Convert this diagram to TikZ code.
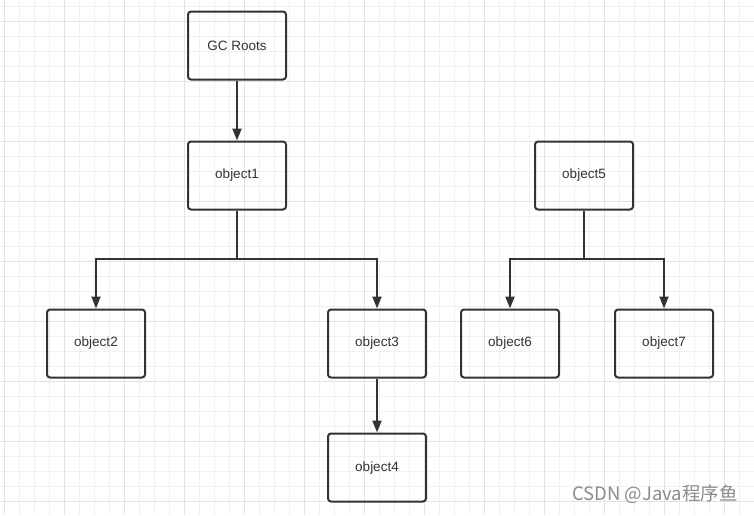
\documentclass[tikz,border=0pt]{standalone}
\usepackage{fontspec}
\setmainfont{Liberation Sans}
\newfontfamily\cjkfont{Noto Sans CJK SC}
\usepackage{tikz}
\usetikzlibrary{positioning, arrows.meta}

\begin{document}
\begin{tikzpicture}[
    x=1pt, y=1pt,
    box/.style={draw=black!80, line width=2pt, rounded corners=3pt, minimum width=98pt, minimum height=68pt, align=center, font=\fontsize{13.5}{16}\selectfont, text=black!80},
    arrow/.style={-{Triangle[length=12pt,width=9pt]}, line width=2pt, draw=black!80},
    minor_grid/.style={draw=black!6, line width=0.8pt},
    major_grid/.style={draw=black!11, line width=0.8pt}
]

% Canvas and grid
\useasboundingbox[fill=white] (0,0) rectangle (754,-515);
\foreach \x in {4,19,...,754} \draw[minor_grid] (\x,0) -- (\x,-515);
\foreach \y in {6,21,...,515} \draw[minor_grid] (0,-\y) -- (754,-\y);
\foreach \x in {4,64,...,754} \draw[major_grid] (\x,0) -- (\x,-515);
\foreach \y in {21,81,...,515} \draw[major_grid] (0,-\y) -- (754,-\y);

% Nodes
\node[box] (roots) at (237,-45.5) {GC Roots};
\node[box, below=60pt of roots] (obj1) {object1};
\node[box, right=247pt of obj1] (obj5) {object5};

\node[box, below left=98pt and 41pt of obj1] (obj2) {object2};
\node[box, below right=98pt and 40pt of obj1] (obj3) {object3};
\node[box, below=54pt of obj3] (obj4) {object4};

\node[box, below=98pt of obj5, xshift=-74pt] (obj6) {object6};
\node[box, right=54pt of obj6] (obj7) {object7};

% Watermark
\node[text=black!45, font=\cjkfont\fontsize{18.5}{20}\selectfont] (mark) at (655,-494) {CSDN @Java程序鱼};

% Arrows
\draw[arrow] (roots) -- (obj1);
\draw[arrow] (obj1.south) -- ++(0,-48) -| (obj2.north);
\draw[arrow] (obj1.south) -- ++(0,-48) -| (obj3.north);
\draw[arrow] (obj3) -- (obj4);
\draw[arrow] (obj5.south) -- ++(0,-48) -| (obj6.north);
\draw[arrow] (obj5.south) -- ++(0,-48) -| (obj7.north);

\end{tikzpicture}
\end{document}
